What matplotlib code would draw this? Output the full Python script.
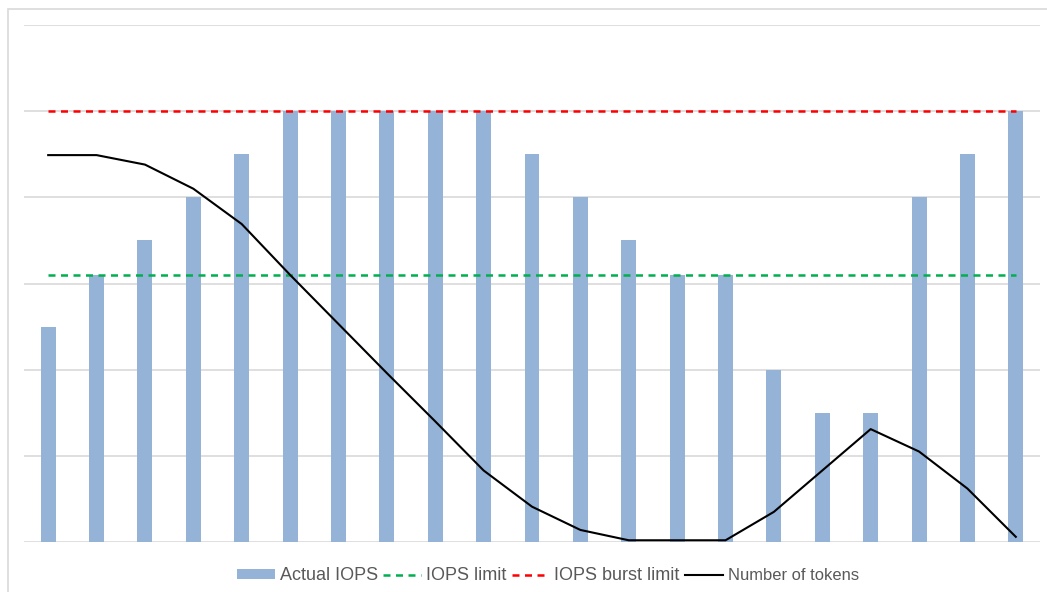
import matplotlib
matplotlib.use('Agg')
import matplotlib.pyplot as plt
from matplotlib.patches import Rectangle
import numpy as np

# data (units: one gridline = 100)
periods = list(range(1, 22))
actual_iops = [250, 310, 350, 400, 450, 500, 500, 500, 500, 500, 450,
               400, 350, 310, 310, 200, 150, 150, 400, 450, 500]
iops_limit = [310] * 21
burst_limit = [500] * 21
tokens = [449, 449, 438, 410, 369, 310, 253, 196, 140, 83, 41,
          14, 2, 2, 2, 35, 83, 131, 105, 62, 6]

plt.rcParams['font.family'] = ['Liberation Sans', 'DejaVu Sans']

fig = plt.figure(figsize=(10.47, 5.92), dpi=100)

# outer chart frame
fig.patches.append(Rectangle((8 / 1047, -0.01), 1.0, 1 - 9 / 592 + 0.01,
                             transform=fig.transFigure, fill=False,
                             edgecolor='#D9D9D9', linewidth=1.2))

ax = fig.add_axes([24 / 1047, 1 - 542 / 592, (1040 - 24) / 1047, (542 - 25) / 592])

x = np.arange(len(periods))
b = ax.bar(x, actual_iops, width=0.31, color='#95B3D7', label='Actual IOPS', zorder=2)
l1, = ax.plot(x, iops_limit, color='#00B050', lw=1.8, dashes=(2.8, 2.2),
              label='IOPS limit', zorder=3)
l2, = ax.plot(x, burst_limit, color='#FF0000', lw=1.8, dashes=(2.8, 2.2),
              label='IOPS burst limit', zorder=3)
l3, = ax.plot(x, tokens, color='black', lw=1.5, label='Number of tokens', zorder=4)

ax.set_xlim(-0.5, len(periods) - 0.5)
ax.set_ylim(0, 600)
ax.set_yticks(range(0, 601, 100))
ax.grid(axis='y', color='#D9D9D9', lw=1.2, zorder=0)
ax.tick_params(left=False, bottom=False, labelleft=False, labelbottom=False)
for s in ax.spines.values():
    s.set_visible(False)

leg = fig.legend([b, l1, l2, l3],
                 ['Actual IOPS', 'IOPS limit', 'IOPS burst limit', 'Number of tokens'],
                 loc='center', bbox_to_anchor=(548 / 1047, 1 - 576 / 592),
                 ncol=4, frameon=False, fontsize=13, handlelength=2.1,
                 handleheight=0.45, handletextpad=0.28, columnspacing=0.28,
                 borderaxespad=0)
for t in leg.get_texts():
    t.set_color('#595959')
leg.get_texts()[3].set_fontsize(11.9)

fig.savefig('out.png', dpi=100)
